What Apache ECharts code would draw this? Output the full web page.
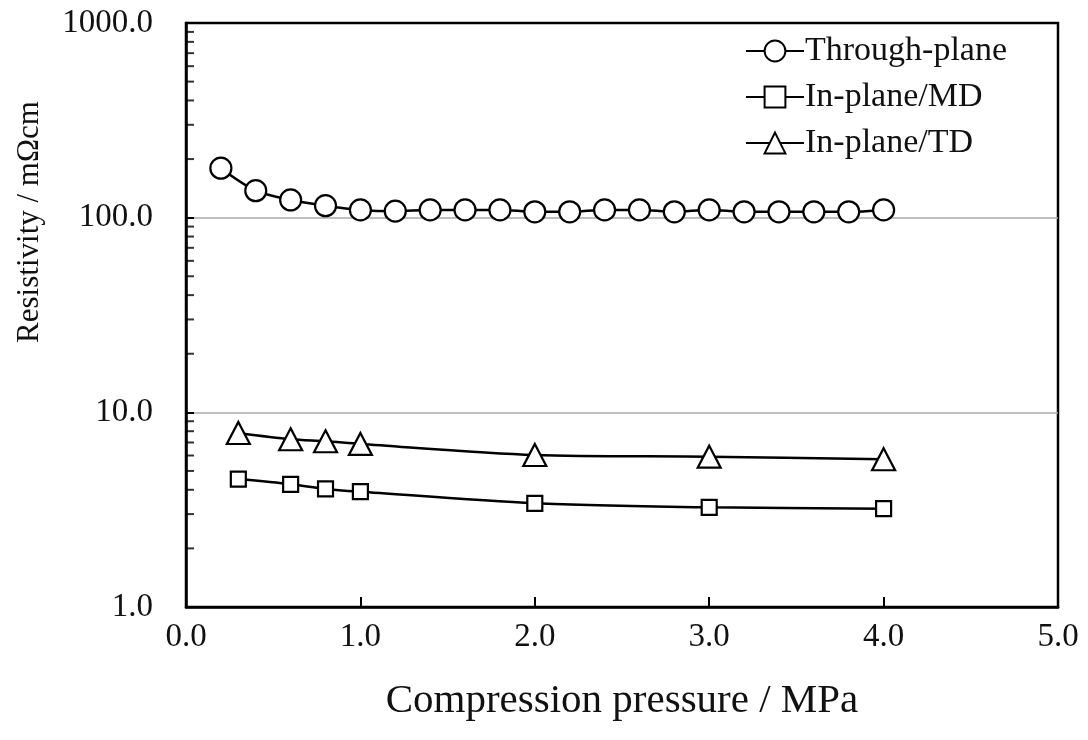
<!DOCTYPE html>
<html>
<head>
<meta charset="utf-8">
<script src="https://cdn.jsdelivr.net/npm/echarts@6/dist/echarts.min.js"></script>
<style>
html,body{margin:0;padding:0;background:#fff;}
#chart{width:1088px;height:740px;}
</style>
</head>
<body>
<div id="chart"></div>
<script>
// ---- data ----
const throughX = [0.2,0.4,0.6,0.8,1.0,1.2,1.4,1.6,1.8,2.0,2.2,2.4,2.6,2.8,3.0,3.2,3.4,3.6,3.8,4.0];
const throughY = [179.5,137.6,123.3,115.2,109.6,108.0,109.6,109.6,109.6,107.2,107.2,109.6,109.6,107.2,109.6,107.2,107.2,107.2,107.2,109.6];
const inPlaneX = [0.3,0.6,0.8,1.0,2.0,3.0,4.0];
const mdY = [4.54,4.27,4.04,3.91,3.41,3.25,3.20];
const tdY = [7.83,7.27,7.10,6.88,6.04,5.92,5.74];
const seriesNames = ['Through-plane','In-plane/MD','In-plane/TD'];
const xTicks = [0,1,2,3,4,5];
const yTicks = [1,10,100,1000];
const yMinorTicks = [2,3,4,5,6,7,8,9,20,30,40,50,60,70,80,90,200,300,400,500,600,700,800,900];

const FONT = '"Liberation Serif","Times New Roman",serif';
const chart = echarts.init(document.getElementById('chart'));

function pairs(xs, ys){ return xs.map((x,i)=>[x, ys[i]]); }

const markerStyle = {color:'#fff', borderColor:'#000', borderWidth:2.2};

chart.setOption({
  animation:false,
  backgroundColor:'#fff',
  grid:{left:186, right:30, top:23, bottom:133, show:true, borderColor:'#000', borderWidth:2.5, backgroundColor:'transparent'},
  legend:{
    orient:'vertical', left:740, top:29, itemGap:12,
    itemWidth:58, itemHeight:26,
    textStyle:{fontFamily:FONT, fontSize:34, color:'#111', padding:[0,0,0,-4]},
    data:seriesNames
  },
  xAxis:{
    type:'value', min:xTicks[0], max:xTicks[xTicks.length-1], interval:1,
    name:'Compression pressure / MPa', nameLocation:'middle', nameGap:74,
    nameTextStyle:{fontFamily:FONT, fontSize:41, color:'#111'},
    axisLine:{lineStyle:{color:'#000', width:2.5}},
    axisTick:{inside:true, length:10, lineStyle:{color:'#000', width:2}},
    axisLabel:{fontFamily:FONT, fontSize:33, color:'#111', margin:14, formatter:v=>v.toFixed(1)},
    splitLine:{show:false}
  },
  yAxis:{
    type:'log', logBase:10, min:yTicks[0], max:yTicks[yTicks.length-1],
    name:'Resistivity / mΩcm', nameLocation:'middle', nameGap:141,
    nameTextStyle:{fontFamily:FONT, fontSize:31, color:'#111', padding:[0,0,0,186]},
    axisLine:{lineStyle:{color:'#000', width:2.5}},
    axisTick:{inside:true, length:8, lineStyle:{color:'#000', width:2}},
    axisLabel:{fontFamily:FONT, fontSize:33, color:'#111', margin:33, formatter:v=>Number(v).toFixed(1)},
    splitLine:{show:true, showMinLine:false, showMaxLine:false, lineStyle:{color:'#aaa', width:1.5}}
  },
  series:[
    {
      name:seriesNames[0], type:'line', data:pairs(throughX, throughY), smooth:0.3,
      symbol:'circle', symbolSize:21, lineStyle:{color:'#000', width:2.5},
      itemStyle:markerStyle, z:5
    },
    {
      name:seriesNames[1], type:'line', data:pairs(inPlaneX, mdY), smooth:0.3,
      symbol:'rect', symbolSize:15, lineStyle:{color:'#000', width:2.5},
      itemStyle:markerStyle, z:5
    },
    {
      name:seriesNames[2], type:'line', data:pairs(inPlaneX, tdY), smooth:0.3,
      symbol:'triangle', symbolSize:[23,22], lineStyle:{color:'#000', width:2.5},
      itemStyle:markerStyle, z:5
    },
    {
      name:'minorTicks', type:'scatter', data:yMinorTicks.map(v=>[0,v]),
      symbol:'rect', symbolSize:[8,2], symbolOffset:[4,0], silent:true,
      itemStyle:{color:'#000'}, z:3
    }
  ]
});
</script>
</body>
</html>
